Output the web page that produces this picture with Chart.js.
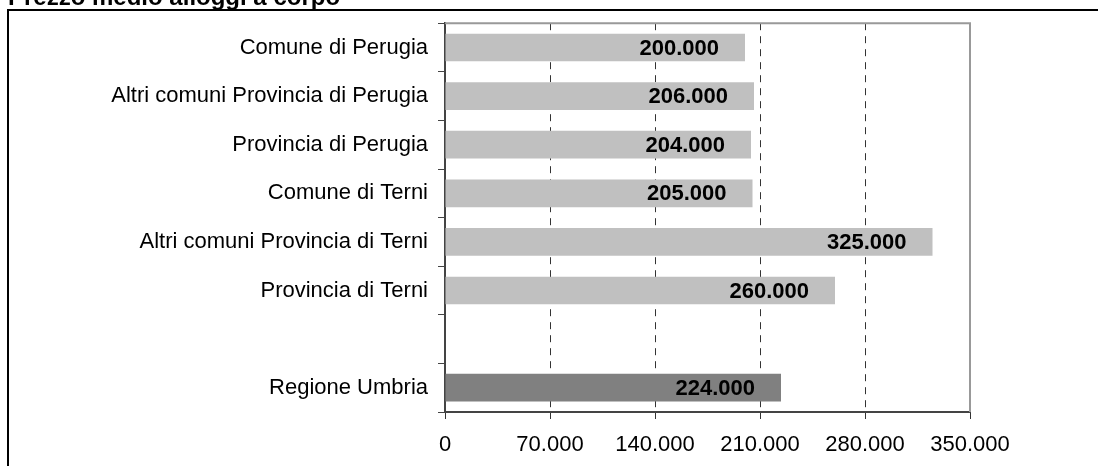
<!DOCTYPE html>
<html>
<head>
<meta charset="utf-8">
<script src="https://cdn.jsdelivr.net/npm/chart.js@4/dist/chart.umd.min.js"></script>
<style>
  html, body { margin: 0; padding: 0; background: #fff; }
  canvas { display: block; }
</style>
</head>
<body>
<canvas id="c" width="1098" height="466"></canvas>
<script>
const chartTitle = "Prezzo medio alloggi a corpo";
const categories = [
  "Comune di Perugia",
  "Altri comuni Provincia di Perugia",
  "Provincia di Perugia",
  "Comune di Terni",
  "Altri comuni Provincia di Terni",
  "Provincia di Terni",
  "",
  "Regione Umbria"
];
const prezzoMedio = [200000, 206000, 204000, 205000, 325000, 260000, null, 224000];
const barColors = ["#C0C0C0", "#C0C0C0", "#C0C0C0", "#C0C0C0", "#C0C0C0", "#C0C0C0", "#C0C0C0", "#808080"];
const xTickValues = [0, 70000, 140000, 210000, 280000, 350000];

const FONT = "'Liberation Sans', Arial, sans-serif";

function fmt(v) {
  return String(Math.round(v)).replace(/\B(?=(\d{3})+(?!\d))/g, ".");
}

const decorPlugin = {
  id: "decor",
  afterDatasetsDraw(chart) {
    const ctx = chart.ctx;
    const meta = chart.getDatasetMeta(0);
    ctx.save();
    ctx.font = "bold 22px " + FONT;
    ctx.fillStyle = "#000";
    ctx.textAlign = "right";
    ctx.textBaseline = "middle";
    meta.data.forEach((el, i) => {
      const v = prezzoMedio[i];
      if (v === null || v === undefined) return;
      ctx.fillText(fmt(v), el.x - 26, el.y + 1);
    });
    ctx.restore();
  },
  afterDraw(chart) {
    const ctx = chart.ctx;
    const a = chart.chartArea;
    ctx.save();
    // plot frame top and right
    ctx.strokeStyle = "#999";
    ctx.lineWidth = 2;
    ctx.beginPath();
    ctx.moveTo(a.left, a.top);
    ctx.lineTo(a.right, a.top);
    ctx.lineTo(a.right, a.bottom);
    ctx.stroke();
    // outer frame
    ctx.strokeStyle = "#000";
    ctx.lineWidth = 2;
    ctx.beginPath();
    ctx.moveTo(8, 466);
    ctx.lineTo(8, 10);
    ctx.lineTo(1098, 10);
    ctx.stroke();
    // title (partially cut off at top)
    ctx.font = "bold 24px " + FONT;
    ctx.fillStyle = "#000";
    ctx.textAlign = "left";
    ctx.textBaseline = "alphabetic";
    ctx.fillText(chartTitle, 8, 5);
    ctx.restore();
  }
};

new Chart(document.getElementById("c"), {
  type: "bar",
  data: {
    labels: categories,
    datasets: [{
      data: prezzoMedio,
      backgroundColor: barColors,
      borderWidth: 0,
      barPercentage: 0.57,
      categoryPercentage: 1.0
    }]
  },
  options: {
    indexAxis: "y",
    responsive: false,
    animation: false,
    devicePixelRatio: 1,
    layout: { padding: { left: 0, top: 18, right: 128, bottom: 0 } },
    plugins: {
      legend: { display: false },
      tooltip: { enabled: false },
      title: { display: false }
    },
    scales: {
      x: {
        min: 0,
        max: 350000,
        afterFit(scale) { scale.height = 54; },
        afterBuildTicks(scale) { scale.ticks = xTickValues.map(v => ({ value: v })); },
        ticks: {
          callback: (v) => fmt(v),
          color: "#000",
          font: { family: FONT, size: 22 },
          padding: 13,
          maxRotation: 0
        },
        grid: {
          color: (c) => (c.tick && c.tick.value > 0 && c.tick.value < 350000) ? "#333" : "rgba(0,0,0,0)",
          tickColor: "#333",
          tickLength: 7,
          lineWidth: 1,
          tickBorderDash: []
        },
        border: { display: true, color: "#444", width: 2, dash: [7, 6] }
      },
      y: {
        afterFit(scale) { scale.width = 445; },
        ticks: {
          color: "#000",
          font: { family: FONT, size: 22 },
          padding: 10
        },
        grid: {
          drawOnChartArea: false,
          drawTicks: true,
          tickLength: 7,
          tickColor: "#444",
          offset: true
        },
        border: { display: true, color: "#444", width: 2 }
      }
    }
  },
  plugins: [decorPlugin]
});
</script>
</body>
</html>
